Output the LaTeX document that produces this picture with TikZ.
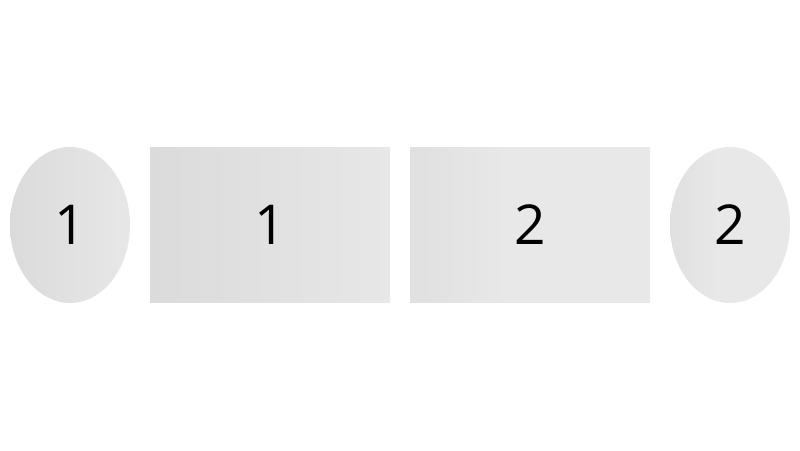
\documentclass[tikz,border=0pt]{standalone}
\usepackage{fontspec}
\setmainfont{Open Sans}
\usetikzlibrary{shapes.geometric}
\definecolor{ga}{HTML}{DBDBDB}
\definecolor{gb}{HTML}{E7E7E7}
\definecolor{gc}{HTML}{E0E0E0}
\definecolor{gd}{HTML}{E8E8E8}
\pgfdeclarehorizontalshading{quickfade}{100bp}{color(0bp)=(gc); color(25bp)=(gc); color(45bp)=(gd); color(100bp)=(gd)}
\tikzset{
  shp/.style={draw=none, inner sep=0pt, font=\fontsize{55}{55}\selectfont, text=black},
  ell/.style={shp, ellipse, minimum width=120pt, minimum height=156pt},
  box/.style={shp, rectangle, minimum width=240pt, minimum height=155pt}
}
\begin{document}
\begin{tikzpicture}[x=1pt,y=-1pt]
\useasboundingbox (0,0) rectangle (800,450);
\node[ell, left color=ga, right color=gb] (e1) at (70,225) {1};
\node[box, left color=ga, right color=gb] (r1) at (270,224.5) {1};
\node[box, shading=quickfade] (r2) at (530,224.5) {2};
\node[ell, shading=quickfade] (e2) at (730,225) {2};
\end{tikzpicture}
\end{document}
